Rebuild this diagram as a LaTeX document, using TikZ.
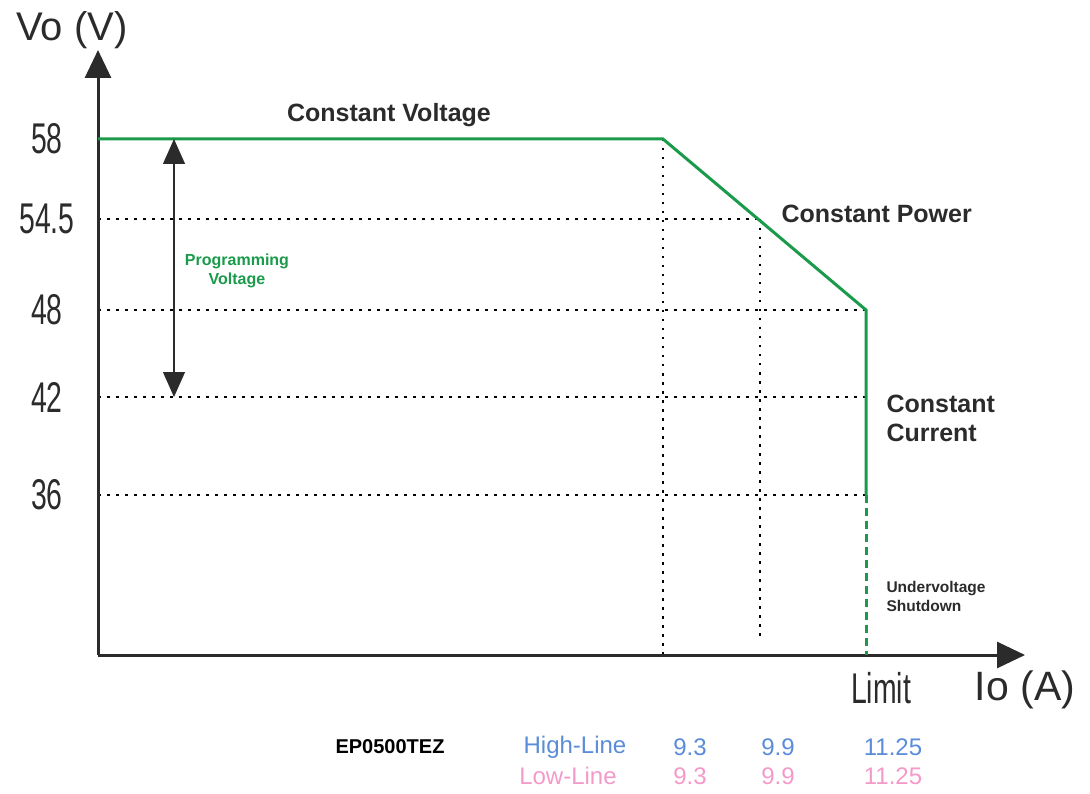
\documentclass[tikz,border=0pt]{standalone}
\usepackage{fontspec}
\setmainfont{Liberation Sans}
\newfontfamily\condfont[FakeStretch=0.66]{Liberation Sans}
\usetikzlibrary{arrows.meta}
\definecolor{cvgreen}{HTML}{1A9A4A}
\definecolor{axisgray}{HTML}{2B2B2B}
\definecolor{hiblue}{HTML}{5A8CD8}
\definecolor{lopink}{HTML}{F49AC9}

\begin{document}
\begin{tikzpicture}[x=1pt,y=-1pt,
  axis/.style={axisgray,line width=3pt,-{Triangle[length=28pt,width=26pt]}},
  gridline/.style={black,line width=1.9pt,dash pattern=on 2.5pt off 6.5pt},
  curve/.style={cvgreen,line width=3pt},
  ticklabel/.style={font=\condfont\fontsize{43}{43}\selectfont,text=axisgray},
  region/.style={font=\bfseries\fontsize{25}{29}\selectfont,text=axisgray,align=left},
  tablecell/.style={font=\fontsize{24}{24}\selectfont}]
\useasboundingbox (0,0) rectangle (1090,794);
% operating points
\coordinate (o) at (98,655);
\coordinate (cvend) at (663,139);
\coordinate (cpmid) at (760,219);
\coordinate (cpend) at (866,310);
\coordinate (ccend) at (866,495);
\coordinate (limit) at (866,655);
% grid
\draw[gridline] (cvend) -- (663,655);
\draw[gridline] (cpmid) -- (760,640);
\draw[gridline] (98,219) -- (cpmid);
\draw[gridline] (98,310) -- (cpend);
\draw[gridline] (98,397) -- (866,397);
\draw[gridline] (98,495) -- (ccend);
% axes
\draw[axis] (o) -- (98,50);
\draw[axis] (o) -- (1025,655);
% output curve
\draw[curve] (98,139) -- (cvend) -- (cpend) -- (ccend);
\draw[curve,dash pattern=on 8pt off 5pt] (ccend) -- (limit);
\draw[axisgray,line width=1.3pt,{Triangle[length=25pt,width=22pt]}-{Triangle[length=25pt,width=22pt]}] (174,139) -- (174,397);
% labels
\foreach \v/\y in {58/139,54.5/219,48/310,42/397,36/495}{\node[ticklabel] (t\y) at (47,\y) {\v};}
\node[font=\fontsize{40}{40}\selectfont,text=axisgray] (vo) at (72,30) {Vo (V)};
\node[font=\fontsize{41}{41}\selectfont,text=axisgray] (io) at (1025,690) {Io (A)};
\node[ticklabel] (lim) at (881,688) {Limit};
\node[region] (cv) at (389,115) {Constant Voltage};
\node[region,anchor=west] (cp) at (778,214) {Constant Power};
\node[region,anchor=west] (cc) at (883,418) {Constant\\Current};
\node[font=\bfseries\fontsize{16}{19}\selectfont,text=cvgreen,align=center] (pv) at (237,271) {Programming\\Voltage};
\node[font=\bfseries\fontsize{15.5}{19}\selectfont,text=axisgray,align=left,anchor=west] (uv) at (883,596) {Undervoltage\\Shutdown};
% table
\node[font=\bfseries\fontsize{20}{20}\selectfont,text=black] (model) at (390,747) {EP0500TEZ};
\node[tablecell,text=hiblue] (hl) at (575,747) {High-Line};
\node[tablecell,text=lopink] (ll) at (568,776) {Low-Line};
\foreach \v/\x in {9.3/690,9.9/778,11.25/893}{
  \node[tablecell,text=hiblue] (h\x) at (\x,747) {\v};
  \node[tablecell,text=lopink] (l\x) at (\x,776) {\v};}
\end{tikzpicture}
\end{document}
